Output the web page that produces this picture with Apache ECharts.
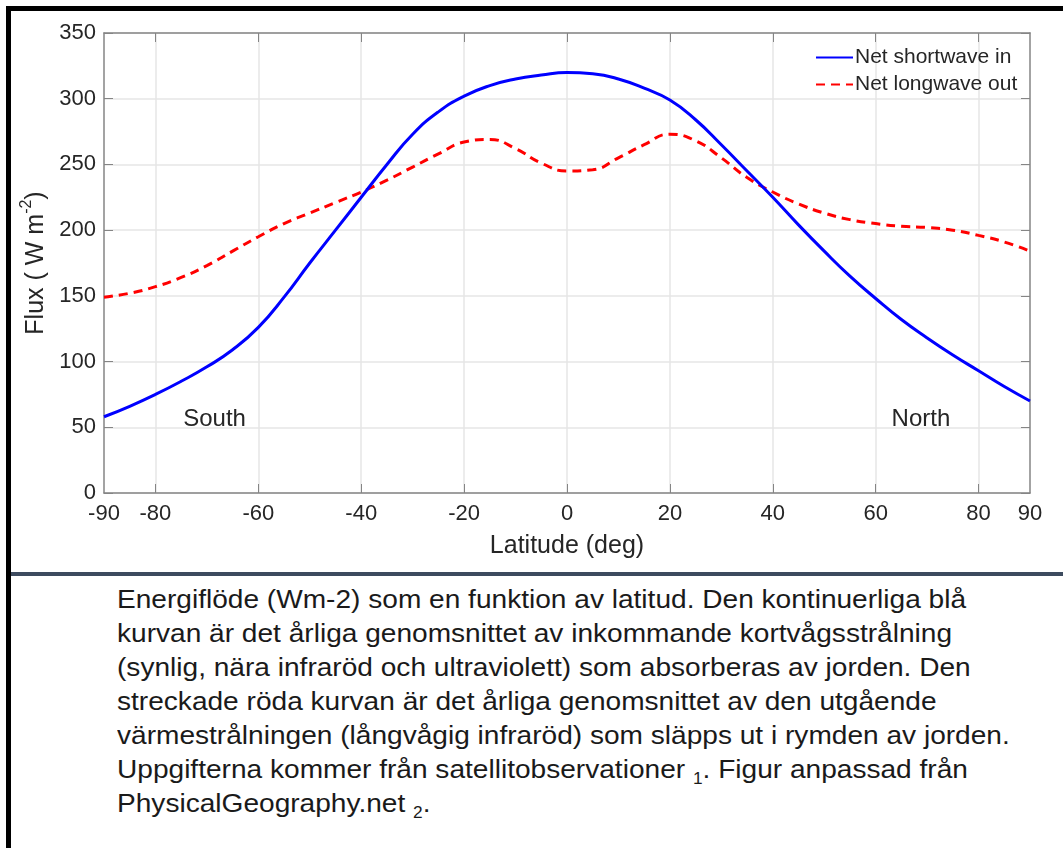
<!DOCTYPE html>
<html>
<head>
<meta charset="utf-8">
<script src="https://cdn.jsdelivr.net/npm/echarts@6/dist/echarts.min.js"></script>
<style>
  html, body { margin: 0; padding: 0; background: #fff; }
  body { width: 1063px; height: 848px; position: relative; overflow: hidden; font-family: 'Liberation Sans', Arial, sans-serif; }
  #chart { position: absolute; left: 0; top: 0; width: 1063px; height: 570px; }
  .bar-top { position: absolute; left: 6px; top: 6px; width: 1057px; height: 5px; background: #000; }
  .bar-left { position: absolute; left: 6px; top: 6px; width: 5px; height: 842px; background: #000; }
  .sep { position: absolute; left: 11px; top: 572px; width: 1052px; height: 4px; background: #3d4b5f; }
  .caption { position: absolute; left: 117px; top: 582px; font-size: 26px; line-height: 34px; color: #1a1a1a;
    white-space: nowrap; transform: scaleX(1.08); transform-origin: 0 0; }
  .caption sub { font-size: 16px; vertical-align: -6px; line-height: 0; }
</style>
</head>
<body>
<div id="chart"></div>
<div class="bar-top"></div>
<div class="bar-left"></div>
<div class="sep"></div>
<div class="caption">
Energiflöde (Wm-2) som en funktion av latitud. Den kontinuerliga blå<br>
kurvan är det årliga genomsnittet av inkommande kortvågsstrålning<br>
(synlig, nära infraröd och ultraviolett) som absorberas av jorden. Den<br>
streckade röda kurvan är det årliga genomsnittet av den utgående<br>
värmestrålningen (långvågig infraröd) som släpps ut i rymden av jorden.<br>
Uppgifterna kommer från satellitobservationer <sub>1</sub>. Figur anpassad från<br>
PhysicalGeography.net <sub>2</sub>.
</div>
<script>
// latitude (deg) and flux values (W m-2)
const latitude = [-90, -85, -80, -75, -70, -65, -60, -55, -50, -45, -40, -35, -30, -25, -20, -15, -10, -5, 0,
  5, 10, 15, 20, 25, 30, 35, 40, 45, 50, 55, 60, 65, 70, 75, 80, 85, 90]
const shortwaveIn = [58, 66, 75, 85, 96, 109, 126, 149, 175, 200, 225, 250, 273, 290, 302, 310, 315, 318, 320,
  319, 315, 308, 299, 284, 265, 245, 225, 204, 184, 165, 148, 132, 118, 105, 93, 81, 70]
const longwaveOut = [149, 152, 157, 164, 173, 184, 195, 205, 213, 221, 229, 238, 248, 258, 267, 269, 262, 251, 245,
  246, 255, 265, 273, 268, 255, 240, 229, 220, 213, 208, 205, 203, 202, 200, 196, 191, 184]

const xLabelValues = [-90, -80, -60, -40, -20, 0, 20, 40, 60, 80, 90]
const xTickValues = [-80, -60, -40, -20, 0, 20, 40, 60, 80]
const annotations = [
  { name: 'South', coord: [-68.5, 56] },
  { name: 'North', coord: [68.8, 56] },
]

const font = "'Liberation Sans', Arial, sans-serif"
const textColor = '#262626'
const axisColor = '#858585'
const gridColor = '#e6e6e6'

const pairs = ys => latitude.map((x, i) => [x, ys[i]])

const chart = echarts.init(document.getElementById('chart'))
chart.setOption({
  animation: false,
  textStyle: { fontFamily: font },
  grid: { left: 104, right: 33, top: 33, bottom: 77, containLabel: false },
  legend: {
    orient: 'vertical',
    left: 815,
    top: 47,
    padding: 0,
    itemWidth: 37,
    itemHeight: 14,
    itemGap: 6,
    itemStyle: { opacity: 0 },
    textStyle: { fontSize: 21, color: textColor, padding: [0, 0, 0, -3] },
    data: ['Net shortwave in', 'Net longwave out'],
  },
  xAxis: [
    {
      type: 'value',
      min: -90,
      max: 90,
      name: 'Latitude (deg)',
      nameLocation: 'middle',
      nameGap: 41,
      nameTextStyle: { fontSize: 25, color: textColor },
      axisLine: { onZero: false, lineStyle: { color: axisColor, width: 1.5 } },
      axisTick: { inside: true, length: 9, customValues: xTickValues, lineStyle: { color: axisColor } },
      axisLabel: { customValues: xLabelValues, fontSize: 22, color: textColor, margin: 10 },
      splitLine: { show: true, lineStyle: { color: gridColor, width: 1.5 } },
    },
    {
      type: 'value',
      position: 'top',
      min: -90,
      max: 90,
      axisLine: { onZero: false, lineStyle: { color: axisColor, width: 1.5 } },
      axisTick: { inside: true, length: 9, customValues: xTickValues, lineStyle: { color: axisColor } },
      axisLabel: { show: false },
      splitLine: { show: false },
    },
  ],
  yAxis: [
    {
      type: 'value',
      min: 0,
      max: 350,
      interval: 50,
      name: '{n|Flux ( W m}{s|-2}{n|)}',
      nameLocation: 'middle',
      nameGap: 46,
      nameTextStyle: {
        color: textColor,
        rich: {
          n: { fontSize: 25, color: textColor, lineHeight: 30, verticalAlign: 'bottom' },
          s: { fontSize: 16, color: textColor, lineHeight: 30, verticalAlign: 'top' },
        },
      },
      axisLine: { show: true, onZero: false, lineStyle: { color: axisColor, width: 1.5 } },
      axisTick: { show: true, inside: true, length: 9, lineStyle: { color: axisColor } },
      axisLabel: { fontSize: 22, color: textColor, margin: 8 },
      splitLine: { show: true, lineStyle: { color: gridColor, width: 1.5 } },
    },
    {
      type: 'value',
      position: 'right',
      min: 0,
      max: 350,
      interval: 50,
      axisLine: { show: true, onZero: false, lineStyle: { color: axisColor, width: 1.5 } },
      axisTick: { show: true, inside: true, length: 9, lineStyle: { color: axisColor } },
      axisLabel: { show: false },
      splitLine: { show: false },
    },
  ],
  series: [
    {
      name: 'Net shortwave in',
      type: 'line',
      data: pairs(shortwaveIn),
      smooth: 0.5,
      symbol: 'none',
      color: '#0000ff',
      lineStyle: { width: 3, color: '#0000ff' },
      z: 3,
      markPoint: {
        symbol: 'circle',
        symbolSize: 0,
        label: { show: true, formatter: p => p.name, fontSize: 24, color: textColor, position: 'inside' },
        data: annotations,
      },
    },
    {
      name: 'Net longwave out',
      type: 'line',
      data: pairs(longwaveOut),
      smooth: 0.5,
      symbol: 'none',
      color: '#ff0000',
      lineStyle: { width: 3, color: '#ff0000', type: [9, 6] },
      z: 2,
    },
  ],
})
</script>
</body>
</html>
